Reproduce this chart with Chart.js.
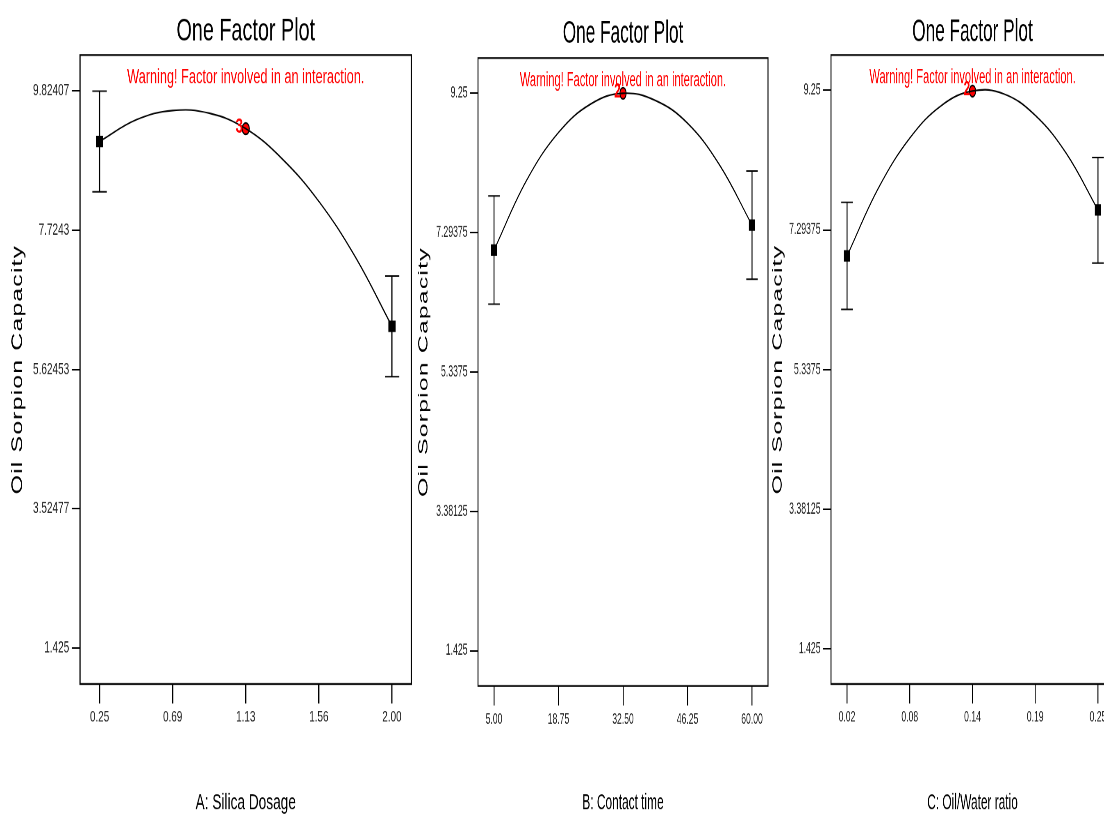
<!DOCTYPE html>
<html>
<head>
<meta charset="utf-8">
<script src="https://cdn.jsdelivr.net/npm/chart.js@4.4.1/dist/chart.umd.min.js"></script>
<style>
  html, body { margin: 0; padding: 0; background: #fff; overflow: hidden; width: 1104px; height: 816px; }
  .panel { position: absolute; top: 0; transform-origin: 0 0; }
  canvas { display: block; }
</style>
</head>
<body>
<div class="panel" id="p1"><canvas id="c1"></canvas></div>
<div class="panel" id="p2"><canvas id="c2"></canvas></div>
<div class="panel" id="p3"><canvas id="c3"></canvas></div>
<script>
// shared text
const plotTitle = 'One Factor Plot';
const warningText = 'Warning! Factor involved in an interaction.';
const yTitle = 'Oil Sorpion Capacity';

// A: Silica Dosage
const aTicks = [0.25, 0.6875, 1.125, 1.5625, 2.0];
const aTickLabels = ['0.25', '0.69', '1.13', '1.56', '2.00'];
const aYTicks = [1.425, 3.52477, 5.62453, 7.7243, 9.82407];
const aYLabels = ['1.425', '3.52477', '5.62453', '7.7243', '9.82407'];
const aCurveX = [0.25, 0.46875, 0.6875, 0.90625, 1.125, 1.34375, 1.5625, 1.78125, 2.0];
const aCurveY = [9.064, 9.39, 9.53, 9.49, 9.257, 8.80, 8.16, 7.32, 6.276];
const aDesignX = [0.25, 2.0];
const aDesignY = [9.064, 6.276];
const aErrLow = [8.304, 5.516];
const aErrHigh = [9.824, 7.036];
const aCenterX = [1.125];
const aCenterY = [9.257];
const aCenterN = ['3'];

// B: Contact time
const bTicks = [5, 18.75, 32.5, 46.25, 60];
const bTickLabels = ['5.00', '18.75', '32.50', '46.25', '60.00'];
const bYTicks = [1.425, 3.38125, 5.3375, 7.29375, 9.25];
const bYLabels = ['1.425', '3.38125', '5.3375', '7.29375', '9.25'];
const bCurveX = [5, 11.875, 18.75, 25.625, 32.5, 39.375, 46.25, 53.125, 60];
const bCurveY = [7.05, 8.02, 8.70, 9.10, 9.25, 9.15, 8.83, 8.24, 7.40];
const bDesignX = [5, 60];
const bDesignY = [7.05, 7.40];
const bErrLow = [6.29, 6.64];
const bErrHigh = [7.81, 8.16];
const bCenterX = [32.5];
const bCenterY = [9.25];
const bCenterN = ['2'];

// C: Oil/Water ratio
const cTicks = [0.02, 0.0775, 0.135, 0.1925, 0.25];
const cTickLabels = ['0.02', '0.08', '0.14', '0.19', '0.25'];
const cYTicks = [1.425, 3.38125, 5.3375, 7.29375, 9.25];
const cYLabels = ['1.425', '3.38125', '5.3375', '7.29375', '9.25'];
const cCurveX = [0.02, 0.04875, 0.0775, 0.10625, 0.135, 0.16375, 0.1925, 0.22125, 0.25];
const cCurveY = [6.93, 7.88, 8.58, 9.035, 9.24, 9.20, 8.90, 8.36, 7.574];
const cDesignX = [0.02, 0.25];
const cDesignY = [6.93, 7.574];
const cErrLow = [6.18, 6.83];
const cErrHigh = [7.68, 8.31];
const cCenterX = [0.135];
const cCenterY = [9.24];
const cCenterN = ['2'];

// Arial metrics squeezed to a narrow face by the panel transform
const FONT = '"Liberation Sans", Arial, sans-serif';
const SY = 1.5;    // whole picture is stretched vertically
const NARROW = 0.82;

const extras = {
  id: 'extras',
  afterDraw(chart, args, o) {
    const ctx = chart.ctx, a = chart.chartArea;
    ctx.save();
    ctx.strokeStyle = '#000';
    ctx.lineWidth = 1.2;
    ctx.strokeRect(a.left, a.top, a.right - a.left, a.bottom - a.top);

    ctx.fillStyle = '#ff0000';
    ctx.font = '13.5px ' + FONT;
    ctx.textAlign = 'center';
    ctx.textBaseline = 'middle';
    ctx.fillText(warningText, (a.left + a.right) / 2, a.top + 15);

    // count label next to the centre point
    const xs = chart.scales.x, ys = chart.scales.y;
    ctx.font = 'bold 14px ' + FONT;
    ctx.textAlign = 'right';
    o.cx.forEach((v, i) => {
      ctx.fillText(o.cn[i], xs.getPixelForValue(v) - 3, ys.getPixelForValue(o.cy[i]) - 1);
    });

    ctx.translate(a.left - o.yOff, (a.top + a.bottom) / 2);
    ctx.rotate(-Math.PI / 2);
    ctx.fillStyle = '#000';
    ctx.font = '16.5px ' + FONT;
    ctx.letterSpacing = '0.8px';
    ctx.textAlign = 'center';
    ctx.fillText(yTitle, 0, 0);
    ctx.restore();
  }
};

function makePanel(id, divId, p) {
  const sx = p.sx * NARROW;
  const div = document.getElementById(divId);
  div.style.left = p.left + 'px';
  div.style.transform = 'scale(' + sx + ',' + SY + ')';
  const w = Math.round(p.cssW / sx);
  const cv = document.getElementById(id);
  cv.width = w; cv.height = 544;
  cv.style.width = w + 'px'; cv.style.height = '544px';

  const datasets = [{
    data: p.curveX.map((x, i) => ({x: x, y: p.curveY[i]})),
    showLine: true, borderColor: '#000', borderWidth: 1.1, pointRadius: 0, tension: 0.4, fill: false
  }];
  p.designX.forEach((x, i) => {
    datasets.push({
      data: [{x: x, y: p.lo[i]}, {x: x, y: p.hi[i]}],
      showLine: true, borderColor: '#000', borderWidth: 1.2,
      pointStyle: 'line', pointRadius: p.cap / sx, pointBorderColor: '#000', pointBorderWidth: 1
    });
  });
  datasets.push({
    data: p.designX.map((x, i) => ({x: x, y: p.designY[i]})),
    pointStyle: 'rect', pointRadius: 5.4, backgroundColor: '#000', borderColor: '#000', borderWidth: 0
  });
  datasets.push({
    data: p.cx.map((x, i) => ({x: x, y: p.cy[i]})),
    pointStyle: 'circle', pointRadius: 3.8, backgroundColor: '#ff0000', borderColor: '#000', borderWidth: 1.1
  });

  return new Chart(cv, {
    type: 'scatter',
    data: {datasets: datasets},
    options: {
      responsive: false,
      animation: false,
      devicePixelRatio: 2,
      events: [],
      layout: {padding: {left: 0, right: w - p.right / sx, top: 0, bottom: 0}},
      plugins: {
        legend: {display: false},
        tooltip: {enabled: false},
        title: {
          display: true, text: plotTitle, fullSize: false, color: '#000',
          font: {family: FONT, size: 21, weight: 'normal', lineHeight: 1.2},
          padding: {top: p.tPadTop, bottom: p.tPadBot}
        },
        extras: {cx: p.cx, cy: p.cy, cn: p.cn, yOff: p.yOff / sx}
      },
      scales: {
        x: {
          type: 'linear', min: p.xMin, max: p.xMax,
          afterBuildTicks: s => { s.ticks = p.xTicks.map(v => ({value: v})); },
          afterFit: s => { s.height = p.xH; },
          ticks: {
            callback: (v, i) => p.xLabels[i], autoSkip: false, maxRotation: 0,
            color: '#222', padding: 3, font: {family: FONT, size: 10.5}
          },
          grid: {drawOnChartArea: false, drawTicks: true, tickLength: 13, color: '#000', lineWidth: 1.2},
          border: {display: false},
          title: {
            display: true, text: p.xTitle, color: '#000',
            font: {family: FONT, size: 14.5, lineHeight: 1.2}, padding: {top: 0, bottom: 0}
          }
        },
        y: {
          type: 'linear', min: p.yMin, max: p.yMax,
          afterBuildTicks: s => { s.ticks = p.yTicks.map(v => ({value: v})); },
          afterFit: s => { s.width = p.yW / sx; },
          ticks: {
            callback: (v, i) => p.yLabels[i], autoSkip: false,
            color: '#222', padding: 3, font: {family: FONT, size: 10.6}
          },
          grid: {drawOnChartArea: false, drawTicks: true, tickLength: 8 / sx, color: '#000'},
          border: {display: false}
        }
      }
    },
    plugins: [extras]
  });
}

// yW / right / yOff / cap are in page pixels relative to the panel's left edge
makePanel('c1', 'p1', {
  left: 0, sx: 1.15, cssW: 420, yW: 80, right: 412, yOff: 62, cap: 7.2, xH: 88, tPadTop: 8.7, tPadBot: 2.8,
  xMin: 0.133, xMax: 2.117, yMin: 0.882, yMax: 10.367,
  xTicks: aTicks, xLabels: aTickLabels, yTicks: aYTicks, yLabels: aYLabels, xTitle: 'A: Silica Dosage',
  curveX: aCurveX, curveY: aCurveY, designX: aDesignX, designY: aDesignY, lo: aErrLow, hi: aErrHigh,
  cx: aCenterX, cy: aCenterY, cn: aCenterN
});
makePanel('c2', 'p2', {
  left: 405, sx: 1, cssW: 370, yW: 73, right: 363, yOff: 54, cap: 5.7, xH: 86.7, tPadTop: 10, tPadBot: 3.5,
  xMin: 1.59, xMax: 63.41, yMin: 0.93, yMax: 9.745,
  xTicks: bTicks, xLabels: bTickLabels, yTicks: bYTicks, yLabels: bYLabels, xTitle: 'B: Contact time',
  curveX: bCurveX, curveY: bCurveY, designX: bDesignX, designY: bDesignY, lo: bErrLow, hi: bErrHigh,
  cx: bCenterX, cy: bCenterY, cn: bCenterN
});
makePanel('c3', 'p3', {
  left: 760, sx: 1, cssW: 380, yW: 71, right: 354, yOff: 53, cap: 5.8, xH: 88, tPadTop: 9, tPadBot: 2.5,
  xMin: 0.0053, xMax: 0.2647, yMin: 0.93, yMax: 9.745,
  xTicks: cTicks, xLabels: cTickLabels, yTicks: cYTicks, yLabels: cYLabels, xTitle: 'C: Oil/Water ratio',
  curveX: cCurveX, curveY: cCurveY, designX: cDesignX, designY: cDesignY, lo: cErrLow, hi: cErrHigh,
  cx: cCenterX, cy: cCenterY, cn: cCenterN
});
</script>
</body>
</html>
